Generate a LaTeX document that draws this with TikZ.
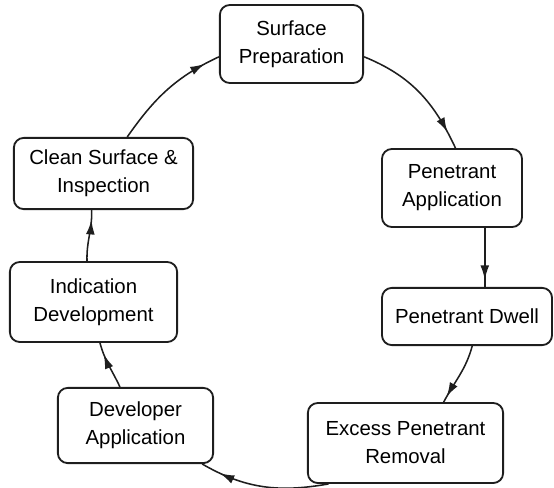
\documentclass[tikz,border=0pt]{standalone}
\usepackage{fontspec}
\setmainfont{Liberation Sans}
\usepackage{tikz}
\usetikzlibrary{arrows.meta, decorations.markings}

\definecolor{inkgray}{RGB}{30, 30, 30}

\tikzset{
  stepbox/.style={draw=inkgray, line width=1.3pt, rounded corners=7pt, align=center,
    inner sep=2pt, font=\fontsize{14.5}{20}\selectfont},
  flow/.style={draw=inkgray, line width=1.1pt, postaction={decorate},
    decoration={markings, mark=at position #1 with {\arrow{Latex[length=3.6mm, width=2.2mm]}}}},
  flow/.default=-0.3cm
}

\begin{document}
\begin{tikzpicture}[x=0.025cm, y=-0.025cm]
  \useasboundingbox (0,0) rectangle (554,488);

  % Cycle steps
  \node[stepbox, minimum width=3.58cm, minimum height=1.95cm] (prep) at (291.5, 44) {Surface\\Preparation};
  \node[stepbox, minimum width=3.5cm, minimum height=1.95cm] (apply) at (452, 188) {Penetrant\\Application};
  \node[stepbox, minimum width=4.25cm, minimum height=1.43cm] (dwell) at (467, 316.5) {Penetrant Dwell};
  \node[stepbox, minimum width=4.88cm, minimum height=2cm] (removal) at (405.5, 443) {Excess Penetrant\\Removal};
  \node[stepbox, minimum width=3.88cm, minimum height=1.88cm] (developer) at (135.5, 425.5) {Developer\\Application};
  \node[stepbox, minimum width=4.18cm, minimum height=2cm] (indication) at (93.5, 302) {Indication\\Development};
  \node[stepbox, minimum width=4.48cm, minimum height=1.78cm] (inspect) at (103.5, 173.5) {Clean Surface \&\\Inspection};

  % Connectors
  \draw[flow=-0.4cm] (inspect.57) to[out=55, in=205] (prep.190);
  \draw[flow=-0.45cm] (prep.350) to[out=-22, in=115] (apply.85);
  \draw[flow=-0.18cm] ([xshift=0.82cm]apply.south) -- ([xshift=0.82cm]apply.south |- dwell.north);
  \draw[flow=-0.15cm] (dwell.-80) to[out=-105, in=62] (removal.47);
  \draw[flow=-0.5cm] (removal.-152) to[out=-170, in=-30] (developer.-30);
  \draw[flow=-0.3cm] (developer.112) to[out=115, in=-75] (indication.-81);
  \draw[flow=-0.25cm] (indication.99) to[out=92, in=-88] (inspect.-108);
\end{tikzpicture}
\end{document}
